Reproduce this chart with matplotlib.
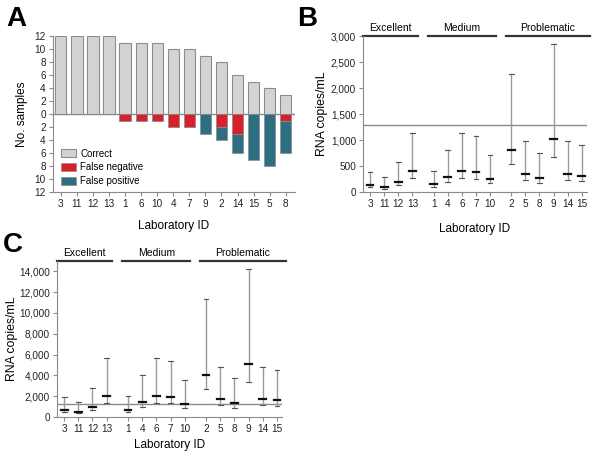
import matplotlib
matplotlib.use("Agg")
import matplotlib.pyplot as plt
from matplotlib.ticker import FuncFormatter
import matplotlib.transforms as mtransforms

plt.rcParams['font.family'] = ['Liberation Sans', 'DejaVu Sans']

# ---- Panel A data ----
labs_a = ['3', '11', '12', '13', '1', '6', '10', '4', '7', '9', '2', '14', '15', '5', '8']
correct = [12, 12, 12, 12, 11, 11, 11, 10, 10, 9, 8, 6, 5, 4, 3]
false_neg = [0, 0, 0, 0, 1, 1, 1, 2, 2, 0, 2, 3, 0, 0, 1]
false_pos = [0, 0, 0, 0, 0, 0, 0, 0, 0, 3, 2, 3, 7, 8, 5]

# ---- Panels B/C data ----
groups = ['Excellent', 'Medium', 'Problematic']
group_labs = [['3', '11', '12', '13'], ['1', '4', '6', '7', '10'], ['2', '5', '8', '9', '14', '15']]
b_med = [140, 100, 200, 400, 150, 290, 400, 380, 250, 810, 340, 270, 1020, 340, 320]
b_low = [90, 70, 140, 270, 100, 190, 270, 250, 170, 540, 230, 180, 670, 230, 210]
b_high = [390, 290, 570, 1130, 400, 810, 1130, 1080, 710, 2270, 980, 760, 2840, 980, 910]
c_med = [700, 500, 1000, 2000, 700, 1400, 2000, 1950, 1250, 4050, 1700, 1350, 5100, 1700, 1600]
c_low = [450, 350, 700, 1350, 500, 950, 1350, 1300, 850, 2700, 1150, 900, 3350, 1150, 1050]
c_high = [1950, 1400, 2800, 5700, 2050, 4050, 5700, 5400, 3550, 11350, 4850, 3750, 14250, 4850, 4550]
threshold = 1290

GREY = '#8a8a8a'
TICK_FS = 7.2
LABEL_FS = 8.5
fig = plt.figure(figsize=(6.0, 4.63), dpi=100)

# ---------------- Panel A ----------------
axA = fig.add_axes([0.088, 0.585, 0.403, 0.337])
xa = list(range(len(labs_a)))
w = 0.7
axA.bar(xa, correct, width=w, color='#d3d3d3', edgecolor='#8c8c8c', linewidth=0.8, label='Correct')
axA.bar(xa, [-v for v in false_neg], width=w, color='#d7202a', edgecolor='#8c8c8c', linewidth=0.5,
        label='False negative')
axA.bar(xa, [-v for v in false_pos], width=w, bottom=[-v for v in false_neg], color='#2b6f80',
        edgecolor='#8c8c8c', linewidth=0.5, label='False positive')
axA.axhline(0, color=GREY, lw=1.0, zorder=0.5)
axA.set_xlim(-0.5, 14.55)
axA.set_ylim(-12, 12)
axA.set_yticks(range(-12, 13, 2))
axA.yaxis.set_major_formatter(FuncFormatter(lambda v, p: f'{abs(int(v))}'))
axA.set_xticks(xa)
axA.set_xticklabels(labs_a)
axA.set_ylabel('No. samples', fontsize=LABEL_FS, labelpad=5)
axA.set_xlabel('Laboratory ID', fontsize=LABEL_FS, labelpad=8)
for s in ['top', 'right']:
    axA.spines[s].set_visible(False)
for s in ['left', 'bottom']:
    axA.spines[s].set_color(GREY)
axA.tick_params(axis='both', labelsize=TICK_FS, colors='#222222', length=3, color=GREY, pad=2)
axA.legend(loc='lower left', bbox_to_anchor=(0.01, 0.0), frameon=False, fontsize=7,
           handlelength=1.5, handleheight=0.8, labelspacing=0.4, borderaxespad=0.2,
           handletextpad=0.5)
fig.text(0.01, 0.958, 'A', fontsize=20, fontweight='bold', va='center', ha='left')


def draw_range_panel(ax, med, low, high, ymax, ystep, ytop_ticks, xlabelpad, ylabelpad):
    positions = []
    labels = []
    pos = 0.0
    starts = []
    ends = []
    for gi, labs in enumerate(group_labs):
        starts.append(pos)
        for lab in labs:
            positions.append(pos)
            labels.append(lab)
            pos += 1
        ends.append(pos - 1)
        pos += 0.5
    for x, m, lo, hi in zip(positions, med, low, high):
        ax.plot([x, x], [lo, hi], color='#9a9a9a', lw=1.0, zorder=2)
        ax.plot([x - 0.17, x + 0.17], [lo, lo], color='#555555', lw=0.8, zorder=3)
        ax.plot([x - 0.17, x + 0.17], [hi, hi], color='#555555', lw=0.8, zorder=3)
        ax.plot([x - 0.24, x + 0.24], [m, m], color='#111111', lw=1.6, zorder=4)
    ax.axhline(threshold, color='#8a8a8a', lw=1.0, zorder=1)
    ax.set_xlim(-0.5, positions[-1] + 0.35)
    ax.set_ylim(0, ymax)
    ax.set_yticks(range(0, ytop_ticks + 1, ystep))
    ax.yaxis.set_major_formatter(FuncFormatter(lambda v, p: f'{int(v):,}'))
    ax.set_xticks(positions)
    ax.set_xticklabels(labels)
    ax.set_ylabel('RNA copies/mL', fontsize=LABEL_FS + 0.3, labelpad=ylabelpad)
    ax.set_xlabel('Laboratory ID', fontsize=LABEL_FS, labelpad=xlabelpad)
    for s in ['top', 'right']:
        ax.spines[s].set_visible(False)
    for s in ['left', 'bottom']:
        ax.spines[s].set_color(GREY)
    ax.tick_params(axis='both', labelsize=TICK_FS, colors='#222222', length=3, color=GREY, pad=2)
    trans = mtransforms.blended_transform_factory(ax.transData, ax.transAxes)
    for gi, g in enumerate(groups):
        x0 = starts[gi] - 0.5 if gi == 0 else starts[gi] - 0.4
        x1 = ends[gi] + 0.4 if gi < 2 else ends[gi] + 0.6
        ax.plot([x0, x1], [1.0, 1.0], color='#333333', lw=1.6, transform=trans, clip_on=False)
        ax.text((x0 + x1) / 2, 1.02, g, transform=trans, ha='center', va='bottom', fontsize=7.5)


# ---------------- Panel B ----------------
axB = fig.add_axes([0.605, 0.585, 0.373, 0.337])
draw_range_panel(axB, b_med, b_low, b_high, 3000, 500, 3000, 10, 2)
fig.text(0.495, 0.958, 'B', fontsize=20, fontweight='bold', va='center', ha='left')

# ---------------- Panel C ----------------
axC = fig.add_axes([0.095, 0.0994, 0.375, 0.337])
draw_range_panel(axC, c_med, c_low, c_high, 15000, 2000, 14000, 4, 0.5)
fig.text(0.005, 0.471, 'C', fontsize=20, fontweight='bold', va='center', ha='left')

fig.savefig('out.png', dpi=100)
